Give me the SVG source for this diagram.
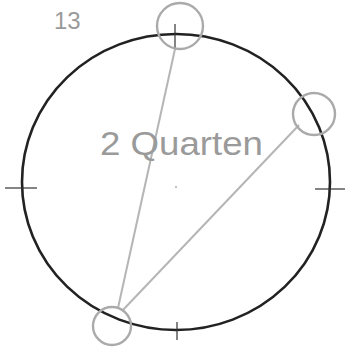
<svg xmlns="http://www.w3.org/2000/svg" width="351" height="349" viewBox="0 0 351 349">
<style>
.main{fill:none;stroke:#222;stroke-width:2.6}
.tick{stroke:#333;stroke-width:1.2}
.marker{fill:none;stroke:#aaa;stroke-width:2.4}
.chord{stroke:#b5b5b5;stroke-width:2}
.label{font-family:"Liberation Sans",Arial,sans-serif;fill:#9a9a9a;font-weight:300}
</style>
<rect width="351" height="349" fill="#fff"/>
<g id="main-circle">
<ellipse class="main" cx="176" cy="182" rx="154" ry="148"/>
</g>
<g id="ticks">
<line class="tick" x1="175" y1="24" x2="175" y2="50"/>
<line class="tick" x1="5" y1="188" x2="37" y2="188"/>
<line class="tick" x1="315" y1="189" x2="345" y2="189"/>
<line class="tick" x1="177" y1="322" x2="177" y2="340"/>
<circle cx="176" cy="187" r="0.8" fill="#777"/>
</g>
<g id="connectors">
<line class="chord" x1="118" y1="308" x2="175" y2="49"/>
<line class="chord" x1="122" y1="311" x2="299" y2="125"/>
</g>
<g id="node-top">
<circle class="marker" cx="180" cy="26" r="23"/>
</g>
<g id="node-right">
<circle class="marker" cx="314" cy="114" r="21"/>
</g>
<g id="node-bottom">
<circle class="marker" cx="112" cy="326" r="19"/>
</g>
<g id="labels">
<text class="label" x="54" y="29" font-size="24">13</text>
<text class="label" x="100" y="155" font-size="34" textLength="163" lengthAdjust="spacingAndGlyphs">2 Quarten</text>
</g>
</svg>
